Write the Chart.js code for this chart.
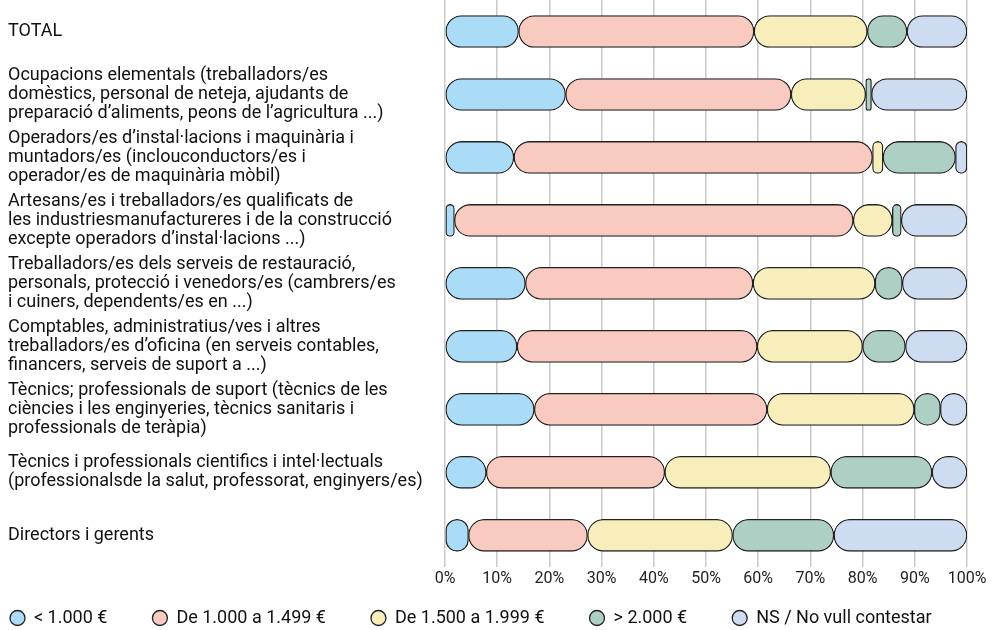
<!DOCTYPE html>
<html>
<head>
<meta charset="utf-8">
<script src="https://cdn.jsdelivr.net/npm/chart.js@4/dist/chart.umd.min.js"></script>
<style>
  html, body { margin: 0; padding: 0; background: #fff; }
  #wrap { width: 997px; height: 630px; position: relative; }
</style>
</head>
<body>
<div id="wrap"><canvas id="chart"></canvas></div>
<script>
const categories = [
    ["TOTAL"],
    ["Ocupacions elementals (treballadors/es", "domèstics, personal de neteja, ajudants de", "preparació d’aliments, peons de l’agricultura ...)"],
    ["Operadors/es d’instal·lacions i maquinària i", "muntadors/es (inclouconductors/es i", "operador/es de maquinària mòbil)"],
    ["Artesans/es i treballadors/es qualificats de", "les industriesmanufactureres i de la construcció", "excepte operadors d’instal·lacions ...)"],
    ["Treballadors/es dels serveis de restauració,", "personals, protecció i venedors/es (cambrers/es", "i cuiners, dependents/es en ...)"],
    ["Comptables, administratius/ves i altres", "treballadors/es d’oficina (en serveis contables,", "financers, serveis de suport a ...)"],
    ["Tècnics; professionals de suport (tècnics de les", "ciències i les enginyeries, tècnics sanitaris i", "professionals de teràpia)"],
    ["Tècnics i professionals cientifics i intel·lectuals", "(professionalsde la salut, professorat, enginyers/es)"],
    ["Directors i gerents"]
];

const seriesNames = ["< 1.000 €", "De 1.000 a 1.499 €", "De 1.500 a 1.999 €", "> 2.000 €", "NS / No vull contestar"];
const seriesColors = ["#aadcf7", "#f8cac0", "#f7eebb", "#aecfc4", "#cddcf1"];

const below1000 = [14.1, 23.1, 13.2, 1.8, 15.4, 13.8, 17.1, 7.9, 4.5];
const from1000to1499 = [45.1, 43.2, 68.7, 76.4, 43.6, 46.0, 44.6, 34.2, 22.8];
const from1500to1999 = [21.7, 14.3, 2.0, 7.5, 23.4, 20.2, 28.2, 31.8, 27.8];
const above2000 = [7.6, 1.1, 13.9, 1.7, 5.2, 8.2, 5.0, 19.4, 19.4];
const noAnswer = [11.5, 18.3, 2.2, 12.6, 12.4, 11.8, 5.1, 6.7, 25.5];

const tickValues = [0, 10, 20, 30, 40, 50, 60, 70, 80, 90, 100];

const seriesValues = [below1000, from1000to1499, from1500to1999, above2000, noAnswer];
const fontFamily = "Roboto, Inter, sans-serif";
const pill = { topLeft: 16, topRight: 16, bottomLeft: 16, bottomRight: 16 };
const legendGap = 45;

// moves the legend row to where the original has it (padding pushes it off)
const legendNudge = {
    id: "legendNudge",
    afterLayout(chart) {
        const legend = chart.legend;
        if (!legend) return;
        legend.left -= legendGap - 2;
        legend.right = chart.width + legendGap * 2;
        legend.top -= 28;
        legend.bottom = chart.height;
    }
};

const ctx = document.getElementById("chart");

new Chart(ctx, {
    type: "bar",
    data: {
        labels: categories,
        datasets: seriesValues.map((values, idx) => ({
            label: seriesNames[idx],
            data: values,
            backgroundColor: seriesColors[idx],
            borderColor: "#222",
            borderWidth: 1.3,
            borderRadius: pill,
            borderSkipped: false,
            barThickness: 32
        }))
    },
    options: {
        indexAxis: "y",
        responsive: true,
        maintainAspectRatio: false,
        animation: false,
        layout: { padding: { left: 8, right: 30, top: 0, bottom: 0 } },
        scales: {
            x: {
                stacked: true,
                min: 0,
                max: 100,
                afterBuildTicks: (scale) => {
                    scale.ticks = tickValues.map((v) => ({ value: v }));
                },
                grid: { color: "#c9c9c9", lineWidth: 1.5, drawTicks: false },
                border: { display: false },
                ticks: {
                    padding: 3,
                    color: "#222",
                    font: { family: fontFamily, size: 16 },
                    callback: (v) => v + "%"
                }
            },
            y: {
                stacked: true,
                grid: { display: false },
                border: { display: false },
                afterFit: (scale) => {
                    scale.width = 437;
                    scale.paddingTop = 0;
                    scale.paddingBottom = 0;
                },
                ticks: {
                    autoSkip: false,
                    crossAlign: "far",
                    padding: 0,
                    color: "#111",
                    font: { family: fontFamily, size: 18, lineHeight: "19px" }
                }
            }
        },
        plugins: {
            legend: {
                position: "bottom",
                align: "start",
                maxHeight: 38,
                labels: {
                    boxWidth: 15,
                    boxHeight: 15,
                    useBorderRadius: true,
                    borderRadius: 7.5,
                    padding: legendGap,
                    color: "#111",
                    font: { family: fontFamily, size: 18 }
                }
            },
            tooltip: { enabled: false }
        }
    },
    plugins: [legendNudge]
});
</script>
</body>
</html>
